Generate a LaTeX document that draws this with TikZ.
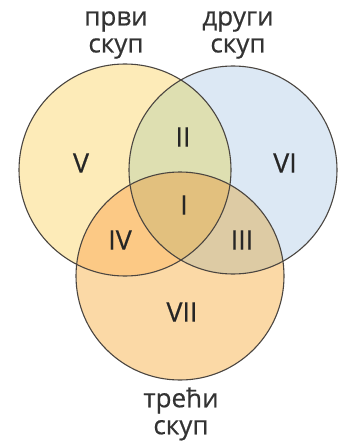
\documentclass[tikz,border=0pt]{standalone}
\usepackage{fontspec}
\setmainfont{Open Sans}
\newfontfamily\medfont{Open Sans}[FakeBold=0.5]
\definecolor{cA}{HTML}{FDEBB8}
\definecolor{cB}{HTML}{DCE8F4}
\definecolor{cC}{HTML}{FBD9A6}
\definecolor{cAB}{HTML}{DEDFB1}
\definecolor{cAC}{HTML}{FCC985}
\definecolor{cBC}{HTML}{DDCBA4}
\definecolor{cABC}{HTML}{E2C07E}
\definecolor{edge}{HTML}{4A4540}
\definecolor{txt}{HTML}{333333}
\begin{document}
\begin{tikzpicture}[x=1pt,y=-1pt,
  setlabel/.style={text=txt,align=center,font=\medfont\fontsize{26}{27}\selectfont,inner sep=0pt},
  region/.style={text=black!85,font=\medfont\fontsize{27}{27}\selectfont,inner sep=0pt}]
\useasboundingbox (0,0) rectangle (338,441);
\coordinate (A) at (125,170);
\coordinate (B) at (233,170);
\coordinate (C) at (180,276);
\def\rA{106}\def\rB{104}\def\rC{104}
% base fills
\fill[cA] (A) circle[radius=\rA];
\fill[cB] (B) circle[radius=\rB];
\fill[cC] (C) circle[radius=\rC];
% pairwise intersections
\begin{scope}\clip (A) circle[radius=\rA]; \fill[cAB] (B) circle[radius=\rB]; \end{scope}
\begin{scope}\clip (A) circle[radius=\rA]; \fill[cAC] (C) circle[radius=\rC]; \end{scope}
\begin{scope}\clip (B) circle[radius=\rB]; \fill[cBC] (C) circle[radius=\rC]; \end{scope}
\begin{scope}\clip (A) circle[radius=\rA]; \clip (B) circle[radius=\rB]; \fill[cABC] (C) circle[radius=\rC]; \end{scope}
% outlines
\draw[edge,line width=1.1pt] (A) circle[radius=\rA];
\draw[edge,line width=1.1pt] (B) circle[radius=\rB];
\draw[edge,line width=1.1pt] (C) circle[radius=\rC];
% region labels
\node[region] (r1) at (184,205) {I};
\node[region] (r2) at (183,137) {II};
\node[region] (r3) at (242,240) {III};
\node[region] (r4) at (120,240) {IV};
\node[region] (r5) at (81,163) {V};
\node[region] (r6) at (285,163) {VI};
\node[region] (r7) at (182,312) {VII};
% set labels
\node[setlabel] (sA) at (116,35) {први\\скуп};
\node[setlabel] (sB) at (238,35) {други\\скуп};
\node[setlabel] (sC) at (181,414) {трећи\\скуп};
\end{tikzpicture}
\end{document}
